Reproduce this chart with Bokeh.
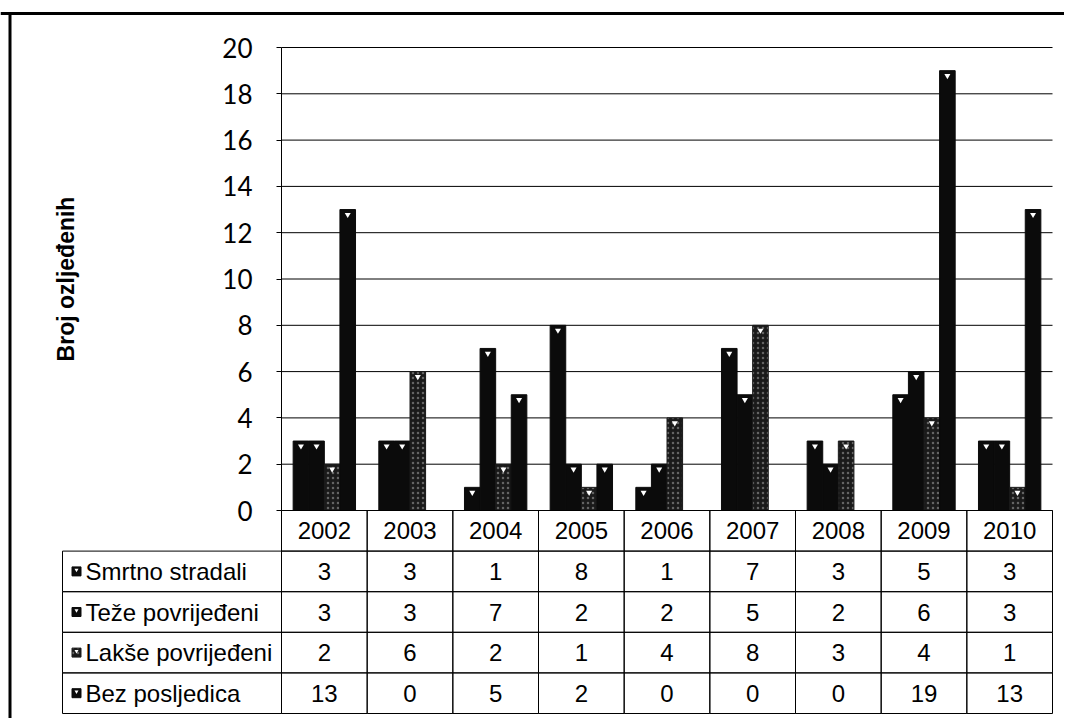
from bokeh.plotting import figure
from bokeh.models import ColumnDataSource, Range1d, FixedTicker, Span
from bokeh.transform import dodge
from bokeh.core.properties import value
from bokeh.embed import file_html
from bokeh.resources import INLINE

# ---------------- data ----------------
years = ["2002", "2003", "2004", "2005", "2006", "2007", "2008", "2009", "2010"]
series_names = ["Smrtno stradali", "Teže povrijeđeni", "Lakše povrijeđeni", "Bez posljedica"]
smrtno = [3, 3, 1, 8, 1, 7, 3, 5, 3]
teze = [3, 3, 7, 2, 2, 5, 2, 6, 3]
lakse = [2, 6, 2, 1, 4, 8, 3, 4, 1]
bez = [13, 0, 5, 2, 0, 0, 0, 19, 13]
y_ticks = [0, 2, 4, 6, 8, 10, 12, 14, 16, 18, 20]
y_title = "Broj ozljeđenih"

series_values = [smrtno, teze, lakse, bez]

# ---------------- layout constants (picture pixels) ----------------
W, H = 1064, 718
PAGE0 = 0                   # observed canvas origin in the picture
AX_X, RIGHT_X = 281, 1052   # chart left axis / right end
Y0, Y20 = 510, 47           # chart value 0 / value 20
TABLE_BOTTOM = 713
LABEL_LEFT = 62
FRAME_X, FRAME_Y = 9.5, 13
n = len(years)
ux = (RIGHT_X - AX_X) / n
uy = (Y0 - Y20) / 20.0
rows = len(series_names)
rh = (TABLE_BOTTOM - Y0) / (rows + 1) / uy   # row height in y units
lab_l = (LABEL_LEFT - AX_X) / ux

BAR_W = 0.182
OFFSETS = [-1.5 * BAR_W, -0.5 * BAR_W, 0.5 * BAR_W, 1.5 * BAR_W]
BAR_COLORS = ["#0b0b0b", "#0b0b0b", "#1a1a1a", "#0b0b0b"]
HATCH = dict(hatch_pattern="dot", hatch_color="#a0a0a0", hatch_scale=5,
             hatch_weight=1.3, hatch_alpha=0.55)
TABLE_FONT = value("Liberation Sans")
TABLE_SIZE = "24px"

y_lo = (Y0 - (PAGE0 + H)) / uy
p = figure(width=W, height=H, output_backend="svg", toolbar_location=None,
           x_range=Range1d((PAGE0 - AX_X) / ux, (PAGE0 + W - AX_X) / ux),
           y_range=Range1d(y_lo, (Y0 - PAGE0) / uy),
           min_border=0, min_border_left=0, min_border_right=0,
           min_border_top=0, min_border_bottom=0)
p.outline_line_color = None
p.background_fill_color = "white"
p.border_fill_color = "white"
p.xaxis.visible = False
p.grid.grid_line_color = None

# outer frame (top and left edges)
frame_top = (Y0 - FRAME_Y) / uy
frame_left = (FRAME_X - AX_X) / ux
p.add_layout(Span(location=frame_top, dimension="width",
                  line_color="black", line_width=3))
p.segment(x0=[frame_left], x1=[frame_left], y0=[frame_top + 1.5 / uy], y1=[y_lo],
          line_color="black", line_width=3)

# horizontal grid lines of the chart
p.segment(x0=[0] * len(y_ticks), x1=[n] * len(y_ticks), y0=y_ticks, y1=y_ticks,
          line_color="black", line_width=1)

# bars
xc = [i + 0.5 for i in range(n)]
src = ColumnDataSource(dict(x=xc, s0=smrtno, s1=teze, s2=lakse, s3=bez))
for i in range(4):
    kw = HATCH if i == 2 else {}
    p.vbar(x=dodge("x", OFFSETS[i]), top="s%d" % i, bottom=0, width=BAR_W,
           source=src, fill_color=BAR_COLORS[i], line_color=BAR_COLORS[i],
           line_width=1, **kw)
    xs = [x for x, v in zip(xc, series_values[i]) if v > 0]
    vs = [v for v in series_values[i] if v > 0]
    msrc = ColumnDataSource(dict(x=xs, v=vs))
    p.scatter(x=dodge("x", OFFSETS[i]), y=dodge("v", -0.22),
              marker="inverted_triangle", size=6, fill_color="white",
              line_color=None, source=msrc)

# y axis placed at x = 0
ax = p.yaxis[0]
ax.fixed_location = 0
ax.bounds = (0, 20)
ax.ticker = FixedTicker(ticks=y_ticks)
ax.axis_line_color = "black"
ax.axis_line_width = 1
ax.major_tick_out = 5
ax.major_tick_in = 0
ax.minor_tick_line_color = None
ax.major_tick_line_color = "black"
ax.major_label_text_font = "Lato"
ax.major_label_text_font_size = "26px"
ax.major_label_text_color = "black"
ax.major_label_standoff = 24
ax.axis_label = y_title
ax.axis_label_text_font = "Liberation Sans"
ax.axis_label_text_font_style = "bold"
ax.axis_label_text_font_size = "23px"
ax.axis_label_text_color = "black"
ax.axis_label_standoff = 140

# ---------------- data table ----------------
hy = [-0.5 * rh] * n
p.rect(x=xc, y=hy, width=1, height=rh, fill_color=None, line_color="black", line_width=1)
p.text(x=xc, y=hy, text=years, text_align="center", text_baseline="middle",
       text_font=TABLE_FONT, text_font_size=TABLE_SIZE, text_color="black")

for r, (name, vals) in enumerate(zip(series_names, series_values)):
    yc = -(r + 1.5) * rh
    p.rect(x=xc, y=[yc] * n, width=1, height=rh, fill_color=None,
           line_color="black", line_width=1)
    p.text(x=xc, y=[yc] * n, text=[str(v) for v in vals], text_align="center",
           text_baseline="middle", text_font=TABLE_FONT,
           text_font_size=TABLE_SIZE, text_color="black")
    p.rect(x=[lab_l / 2], y=[yc], width=-lab_l, height=rh,
           fill_color=None, line_color="black", line_width=1)
    kw = HATCH if r == 2 else {}
    sx = lab_l + 14 / ux
    p.scatter(x=[sx], y=[yc], marker="square", size=9,
              fill_color=BAR_COLORS[r], line_color=BAR_COLORS[r], **kw)
    p.scatter(x=[sx], y=[yc + 1.5 / uy], marker="inverted_triangle",
              size=4, fill_color="white", line_color=None)
    p.text(x=[lab_l + 23 / ux], y=[yc], text=[name], text_align="left",
           text_baseline="middle", text_font=TABLE_FONT,
           text_font_size=TABLE_SIZE, text_color="black")

open("out.html", "w").write(file_html(p, INLINE))
